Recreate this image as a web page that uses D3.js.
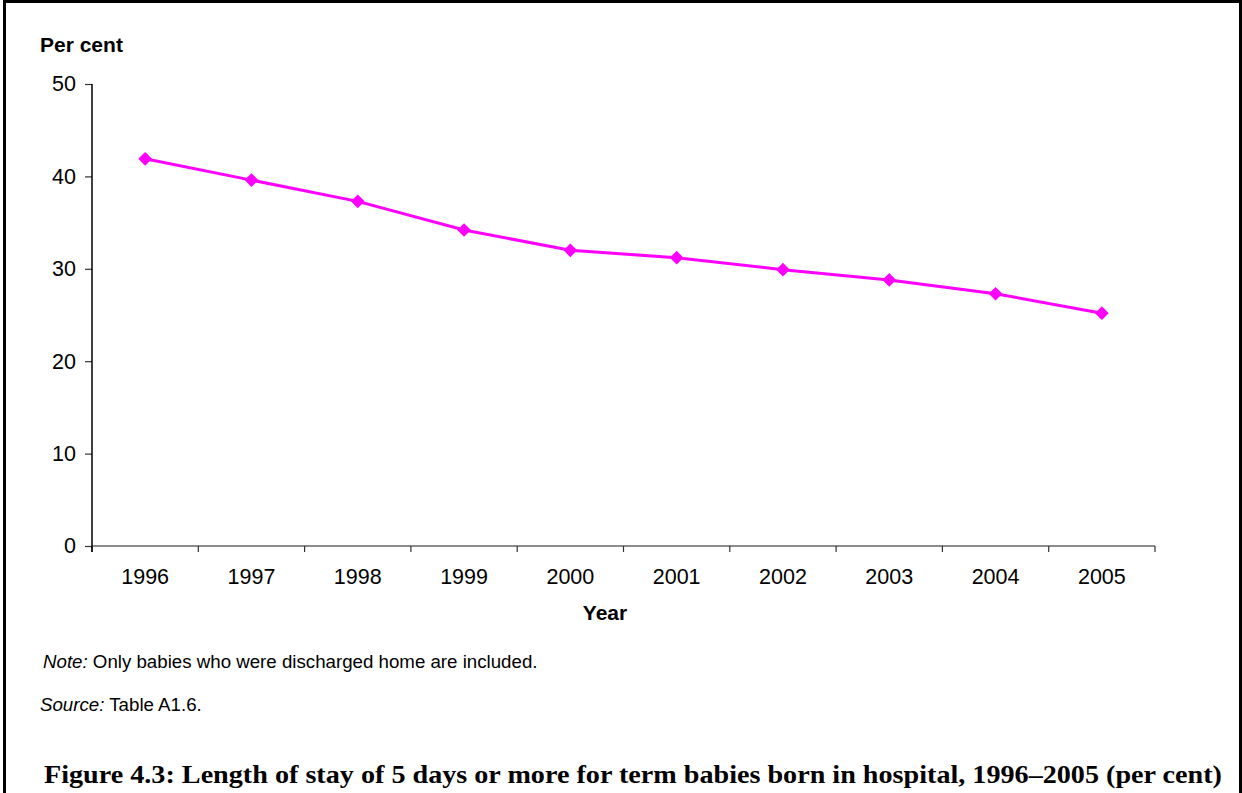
<!DOCTYPE html>
<html>
<head>
<meta charset="utf-8">
<script src="https://cdn.jsdelivr.net/npm/d3@7"></script>
<style>
  body { margin: 0; background: #fff; }
  svg { display: block; }
  .tick text { font-family: Arial, "Liberation Sans", sans-serif; }
</style>
</head>
<body>
<div id="chart"></div>
<script>
// data
const years = ['1996', '1997', '1998', '1999', '2000', '2001', '2002', '2003', '2004', '2005'];
const perCent = [41.9, 39.6, 37.3, 34.2, 32.0, 31.2, 29.9, 28.8, 27.3, 25.2];
const yTicks = [0, 10, 20, 30, 40, 50];

const W = 1242, H = 793;
const margin = { top: 84, left: 92, right: 87, bottom: 247 };
const w = W - margin.left - margin.right;
const h = H - margin.top - margin.bottom;
const sans = 'Arial, "Liberation Sans", sans-serif';

const svg = d3.select('#chart').append('svg')
  .attr('width', W)
  .attr('height', H);

// frame (bottom edge cut off in the original)
svg.append('path')
  .attr('d', `M4.5,${H} V1.5 H1240.5 V${H}`)
  .attr('fill', 'none')
  .attr('stroke', '#000')
  .attr('stroke-width', 3);

const g = svg.append('g')
  .attr('transform', `translate(${margin.left}, ${margin.top})`);

// scales
const xScale = d3.scaleBand()
  .domain(years)
  .range([0, w]);

const yScale = d3.scaleLinear()
  .domain([0, 50])
  .range([h, 0]);

// x-axis: ticks sit on the band edges
const xAxis = g.append('g')
  .attr('transform', `translate(0, ${h})`);

xAxis.append('line')
  .attr('x1', 0).attr('x2', w)
  .attr('stroke', '#666').attr('stroke-width', 1.5);

xAxis.selectAll('.edge')
  .data(years.concat(['end']))
  .join('line')
  .attr('class', 'edge')
  .attr('x1', (d, i) => i < years.length ? xScale(d) : w)
  .attr('x2', (d, i) => i < years.length ? xScale(d) : w)
  .attr('y1', 0).attr('y2', 6)
  .attr('stroke', '#333').attr('stroke-width', 1.2);

xAxis.selectAll('.lbl')
  .data(years)
  .join('text')
  .attr('class', 'lbl')
  .attr('x', d => xScale(d) + xScale.bandwidth() / 2)
  .attr('y', 38)
  .attr('text-anchor', 'middle')
  .style('font-family', sans)
  .style('font-size', '21.5px')
  .attr('fill', '#000')
  .text(d => d);

// y-axis
const yAxis = d3.axisLeft(yScale)
  .tickValues(yTicks)
  .tickSize(7)
  .tickPadding(9)
  .tickFormat(d3.format('d'));

const yg = g.append('g').call(yAxis);
yg.select('.domain').remove();
yg.append('line')
  .attr('y1', 0).attr('y2', h + 6)
  .attr('stroke', '#000').attr('stroke-width', 1.5);
yg.selectAll('.tick line').attr('stroke', '#333').attr('stroke-width', 1.2);
yg.selectAll('.tick text')
  .style('font-size', '21.5px')
  .attr('fill', '#000');

// line + diamond markers
const line = d3.line()
  .x((d, i) => xScale(years[i]) + xScale.bandwidth() / 2)
  .y(d => yScale(d));

g.append('path')
  .datum(perCent)
  .attr('d', line)
  .attr('fill', 'none')
  .attr('stroke', '#ff00ff')
  .attr('stroke-width', 3);

g.selectAll('.pt')
  .data(perCent)
  .join('path')
  .attr('class', 'pt')
  .attr('d', d3.symbol().type(d3.symbolDiamond2).size(120))
  .attr('transform', (d, i) => `translate(${xScale(years[i]) + xScale.bandwidth() / 2}, ${yScale(d)})`)
  .attr('fill', '#ff00ff');

// axis titles
svg.append('text')
  .attr('x', 40).attr('y', 52)
  .style('font-family', sans)
  .style('font-size', '21px')
  .style('font-weight', 'bold')
  .text('Per cent');

svg.append('text')
  .attr('x', 605).attr('y', 620)
  .attr('text-anchor', 'middle')
  .style('font-family', sans)
  .style('font-size', '21px')
  .style('font-weight', 'bold')
  .text('Year');

// note and source
const note = svg.append('text')
  .attr('x', 43).attr('y', 668)
  .style('font-family', sans)
  .style('font-size', '18.7px');
note.append('tspan').style('font-style', 'italic').text('Note:');
note.append('tspan').text(' Only babies who were discharged home are included.');

const source = svg.append('text')
  .attr('x', 40).attr('y', 711)
  .style('font-family', sans)
  .style('font-size', '18.7px');
source.append('tspan').style('font-style', 'italic').text('Source:');
source.append('tspan').text(' Table A1.6.');

// figure caption
svg.append('text')
  .attr('x', 44).attr('y', 783)
  .attr('textLength', 1178)
  .attr('lengthAdjust', 'spacingAndGlyphs')
  .style('font-family', '"Liberation Serif", "Times New Roman", serif')
  .style('font-size', '25px')
  .style('font-weight', 'bold')
  .text('Figure 4.3: Length of stay of 5 days or more for term babies born in hospital, 1996\u20132005 (per cent)');
</script>
</body>
</html>
